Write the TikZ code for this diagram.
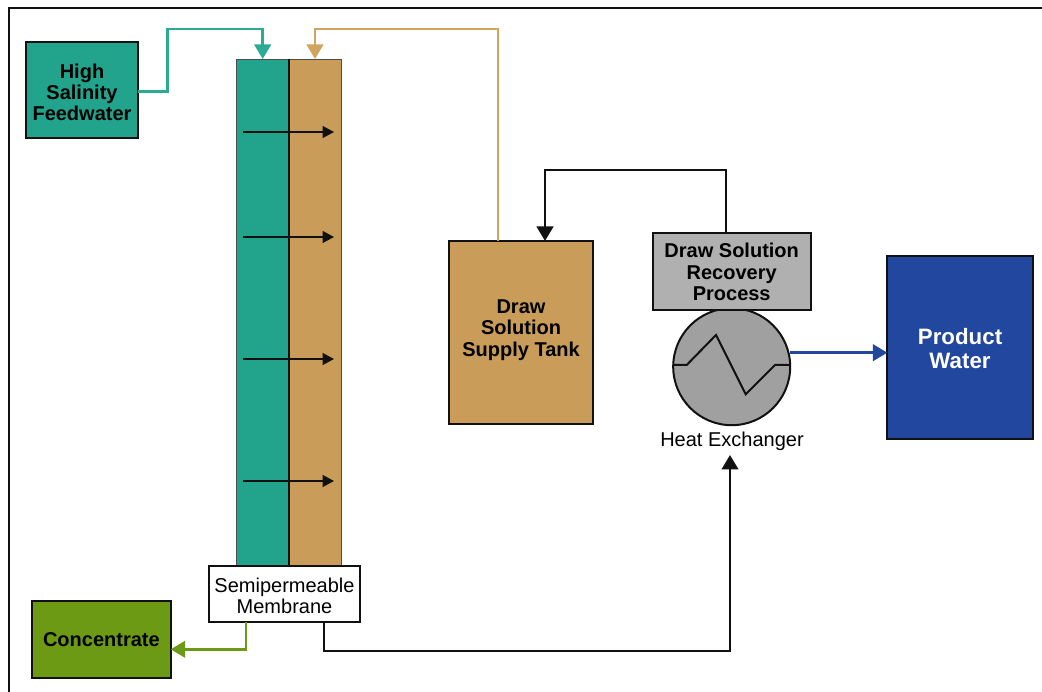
\documentclass[tikz,border=0pt]{standalone}
\usepackage{fontspec}
\setmainfont{Liberation Sans}
\usetikzlibrary{arrows.meta}
\definecolor{teal1}{HTML}{21A38C}
\definecolor{teal2}{HTML}{2BAA94}
\definecolor{tan1}{HTML}{C99C5A}
\definecolor{tan2}{HTML}{CFA560}
\definecolor{green1}{HTML}{6C9A14}
\definecolor{blue1}{HTML}{22479E}
\definecolor{gray1}{HTML}{B0B0B0}
\definecolor{gray2}{HTML}{A0A0A0}
\definecolor{ink}{HTML}{111111}
\newcommand{\dn}[1]{\rule{0pt}{#1}}
\newcommand{\up}[1]{\rule[-#1]{0pt}{#1}}
\tikzset{
  x=1pt,y=-1pt,
  every node/.style={outer sep=0pt},
  boxed/.style={draw=ink,line width=2pt,inner sep=0pt,align=center,anchor=north west,font=\bfseries\fontsize{20}{21.3}\selectfont},
  plain/.style={draw=ink,line width=2pt,inner sep=0pt,align=center,anchor=north west,font=\fontsize{20}{21.3}\selectfont},
  column/.style={draw=ink!75,line width=1.3pt,minimum width=52.5pt,minimum height=508pt,anchor=north west,inner sep=0pt},
  flow/.style={line width=2.8pt,-{Triangle[length=14.5pt,width=16.5pt]}},
  thin arrow/.style={ink,line width=1.5pt,-{Triangle[length=11.5pt,width=12pt]}},
}
\begin{document}
\begin{tikzpicture}[line join=miter]
\useasboundingbox (0,0) rectangle (1042,692);
\fill[white] (0,0) rectangle (1042,692);
\draw[ink,line width=2pt] (1042,8.5) -- (8.5,8.5) -- (8.5,692);
% membrane columns
\node[column,fill=teal1] (feed) at (236.5,59.5) {};
\node[column,fill=tan1] (drawside) at (289,59.5) {};
\draw[ink,line width=1.2pt] (feed.north east) -- (feed.south east);
% permeate arrows
\foreach \n/\y in {a/132,b/237,c/359,d/481}{
  \coordinate (\n1) at (243,\y);
  \coordinate (\n2) at (334,\y);
  \draw[thin arrow] (\n1) -- (\n2);
}
\node[boxed,fill=teal1,minimum width=112pt,minimum height=96pt] (hsf) at (26,42) {\dn{19pt}High\\Salinity\\Feedwater};
\node[boxed,fill=tan1,minimum width=144pt,minimum height=183pt] (tank) at (449,241) {Draw\\Solution\\Supply Tank\up{9pt}};
\node[draw=ink,line width=2pt,fill=gray2,circle,minimum size=117pt,inner sep=0pt] (hx) at (731.7,366.7) {};
\node[boxed,fill=gray1,minimum width=158pt,minimum height=77pt] (rec) at (652.7,233.5) {Draw Solution\\Recovery\\Process};
\node[boxed,fill=blue1,text=white,font=\bfseries\fontsize{22.3}{24}\selectfont,minimum width=145.5pt,minimum height=183pt] (pw) at (887.3,256) {\dn{18pt}Product\\Water};
\node[plain,fill=white,minimum width=151pt,minimum height=56pt] (mem) at (209,566.3) {\dn{17pt}Semipermeable\\Membrane};
\node[boxed,fill=green1,minimum width=138.7pt,minimum height=77.3pt] (conc) at (32,601) {Concentrate};
\node[font=\fontsize{20}{22}\selectfont,inner sep=0pt] (hxl) at (732,441.5) {Heat Exchanger};
% heat exchanger zigzag
\draw[ink,line width=2pt] (hx.west |- 0,365) -- (686.7,365) -- (716,335) -- (745.7,394.3) -- (775,365) -- (hx.east |- 0,365);
% connectors
\draw[flow,teal2] (hsf.east |- 0,91.7) -- (167.3,91.7) -- (167.3,29) -- (262.7,29) -- (262.7,59);
\draw[flow,tan2] (tank.north -| 498,0) -- (498,29) -- (315,29) -- (315,59);
\draw[flow,ink] (rec.north -| 726,0) -- (726,170) -- (545,170) -- (tank.north -| 545,0);
\draw[flow,blue1] (hx.east |- 0,352.7) -- (pw.west |- 0,352.7);
\draw[flow,green1] (mem.south -| 246,0) -- (246,649.3) -- (conc.east |- 0,649.3);
\draw[flow,ink] (mem.south -| 324,0) -- (324,651) -- (730,651) -- (730,455);
\end{tikzpicture}
\end{document}
